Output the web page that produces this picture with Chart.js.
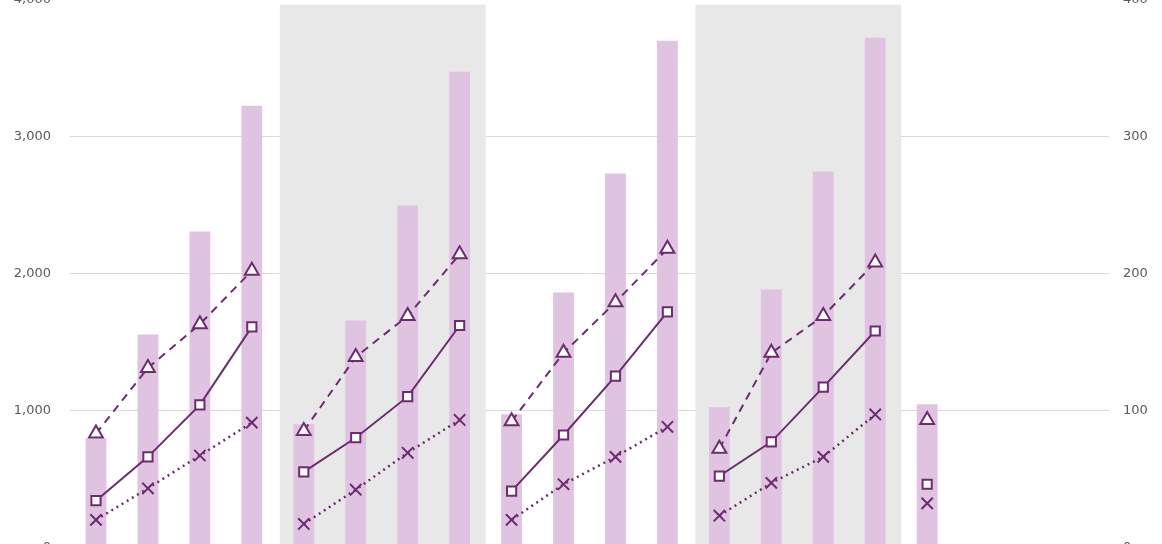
<!DOCTYPE html>
<html>
<head>
<meta charset="utf-8">
<script src="https://cdn.jsdelivr.net/npm/chart.js@4/dist/chart.umd.min.js"></script>
<style>
  html, body { margin: 0; padding: 0; background: #fff; overflow: hidden; }
  #wrap { position: absolute; left: 0; top: -27px; width: 1162px; height: 601px; }
</style>
</head>
<body>
<div id="wrap"><canvas id="chart"></canvas></div>
<script>
// 20 quarterly slots, 17 filled
const labels = ['Q1', 'Q2', 'Q3', 'Q4', 'Q1', 'Q2', 'Q3', 'Q4', 'Q1', 'Q2', 'Q3', 'Q4',
  'Q1', 'Q2', 'Q3', 'Q4', 'Q1', 'Q2', 'Q3', 'Q4'];

// columns, left axis
const totals = [795, 1555, 2307, 3226, 898, 1657, 2496, 3474, 971, 1861, 2730, 3701,
  1022, 1883, 2745, 3723, 1044];

// lines, right axis
const upper = [83, 131, 163, 202, 85, 139, 169, 214, 92, 142, 179, 218, 72, 142, 169, 208, 93];
const middle = [34, 66, 104, 161, 55, 80, 110, 162, 41, 82, 125, 172, 52, 77, 117, 158, 46];
const lower = [20, 43, 67, 91, 17, 42, 69, 93, 20, 46, 66, 88, 23, 47, 66, 97, 32];

// grey background blocks (first and last category index)
const shadedGroups = [[4, 7], [12, 15]];

const purple = '#6b2d6f';
const lilac = '#e0c2e1';

// no line between the last point of one year and the first of the next
const yearBreak = (ctx, style) => (ctx.p0DataIndex % 4 === 3 ? 'transparent' : style);

const shading = {
  id: 'shading',
  beforeDatasetsDraw(chart) {
    const { ctx, chartArea, scales } = chart;
    const x = scales.x;
    const half = (x.getPixelForValue(1) - x.getPixelForValue(0)) / 2;
    const top = scales.y.getPixelForValue(3965);
    ctx.save();
    ctx.fillStyle = '#e8e8e8';
    shadedGroups.forEach(([a, b]) => {
      const left = x.getPixelForValue(a) - half + 2;
      const right = x.getPixelForValue(b) + half;
      ctx.fillRect(left, top, right - left, chartArea.bottom - top);
    });
    ctx.restore();
  }
};

const lineSet = (data, style, dash, extra) => Object.assign({
  type: 'line',
  data: data,
  yAxisID: 'y1',
  borderColor: purple,
  borderWidth: 2,
  borderDash: dash,
  pointBackgroundColor: '#fff',
  pointBorderColor: purple,
  pointBorderWidth: 2,
  pointStyle: style,
  tension: 0,
  order: 0,
  segment: { borderColor: ctx => yearBreak(ctx, purple) }
}, extra);

new Chart(document.getElementById('chart'), {
  data: {
    labels: labels,
    datasets: [
      lineSet(upper, 'triangle', [8, 6], { pointRadius: 8 }),
      lineSet(middle, 'rect', [], { pointRadius: 6.5 }),
      lineSet(lower, 'crossRot', [2, 4], { pointRadius: 8, borderWidth: 2.5 }),
      {
        type: 'bar',
        data: totals,
        yAxisID: 'y',
        backgroundColor: lilac,
        barPercentage: 0.4,
        categoryPercentage: 1,
        order: 1
      }
    ]
  },
  options: {
    responsive: true,
    maintainAspectRatio: false,
    animation: false,
    layout: { padding: { top: 12, bottom: 12, left: 0, right: 0 } },
    plugins: { legend: { display: false }, tooltip: { enabled: false } },
    scales: {
      x: { display: false },
      y: {
        position: 'left',
        min: 0,
        max: 4000,
        ticks: {
          stepSize: 1000,
          padding: 19,
          color: '#595959',
          font: { family: 'DejaVu Sans', size: 13 },
          callback: v => v.toLocaleString('en-US')
        },
        grid: { color: '#d9d9d9', drawTicks: false },
        border: { display: false },
        afterFit: s => { s.width = 70; }
      },
      y1: {
        position: 'right',
        min: 0,
        max: 400,
        ticks: {
          stepSize: 100,
          padding: 14,
          color: '#595959',
          font: { family: 'DejaVu Sans', size: 13 }
        },
        grid: { display: false, drawTicks: false },
        border: { display: false },
        afterFit: s => { s.width = 53; }
      }
    }
  },
  plugins: [shading]
});
</script>
</body>
</html>
